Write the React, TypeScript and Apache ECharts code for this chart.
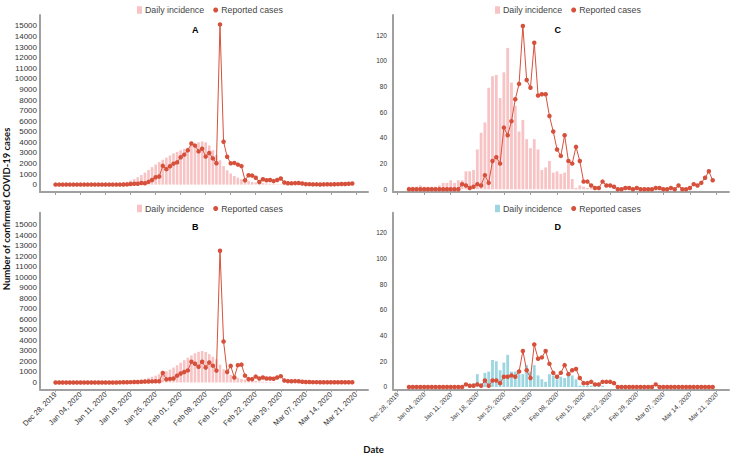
import React, { useEffect, useRef } from 'react';
import * as echarts from 'echarts';

// Day index 0 = Dec 28, 2019
const leftStartDay = 0;
const rightStartDay = 3;

const reportedA = [
  0, 0, 0, 0, 0, 0, 0, 0, 0, 0, 0, 0, 0, 0, 0, 0, 0, 0, 0,
  4, 17, 60, 77, 77, 150, 130, 260, 440, 690, 770, 1770, 1460, 1740, 1980, 2100,
  2590, 2830, 3240, 3880, 3690, 3140, 3390, 2650, 2990, 2480, 2020, 15150, 4050,
  2640, 2010, 2050, 1890, 1750, 400, 890, 850, 650, 250, 510, 410, 430, 330, 430,
  570, 200, 125, 120, 140, 145, 100, 45, 40, 20, 25, 15, 20, 30, 20, 30, 40, 50,
  60, 80, 100,
];
const incidenceA = [
  0, 0, 0, 0, 0, 0, 0, 0, 0, 0, 0, 0, 0, 0, 0,
  10, 30, 60, 110, 180, 270, 380, 520, 700, 900, 1130, 1380, 1650, 1900, 2130,
  2350, 2550, 2750, 2950, 3100, 3250, 3380, 3500, 3650, 3850, 4000, 4080, 4000,
  3700, 3250, 2800, 2300, 1750, 1350, 1050, 820, 650, 510, 400, 320, 250, 200,
  160, 130, 100, 80, 60, 45, 35, 25, 20, 15, 10, 5,
  0, 0, 0, 0, 0, 0, 0, 0, 0, 0, 0, 0, 0, 0, 0,
];
const reportedB = [
  0, 0, 0, 0, 0, 0, 0, 0, 0, 0, 0, 0, 0, 0, 0, 0, 0, 0,
  10, 15, 20, 30, 40, 50, 60, 80, 90, 100, 110, 120, 900, 300, 340, 380, 650,
  850, 1000, 1150, 1980, 1780, 1500, 1980, 1420, 1900, 1600, 1130, 12550, 3900,
  1000, 1580, 480, 1650, 1700, 650, 320, 320, 560, 380, 480, 380, 380, 350, 470,
  600, 190, 130, 120, 130, 110, 70, 50, 40, 30, 30, 25, 25, 25, 25, 25, 25, 25,
  25, 25, 25,
];
const incidenceB = [
  0, 0, 0, 0, 0, 0, 0, 0, 0, 0, 0, 0, 0, 0, 0, 0, 0,
  20, 40, 60, 90, 130, 170, 220, 280, 350, 440, 540, 650, 780, 920, 1070, 1230,
  1420, 1640, 1880, 2120, 2350, 2580, 2780, 2920, 3000, 2900, 2700, 2450, 2200,
  1700, 1250, 950, 720, 560, 440, 350, 280, 220, 180, 140, 110, 80, 60, 45, 30,
  20, 10, 5,
  0, 0, 0, 0, 0, 0, 0, 0, 0, 0, 0, 0, 0, 0, 0, 0, 0, 0, 0,
];
const reportedC = [
  0, 0, 0, 0, 0, 0, 0, 0, 0, 0, 0, 0, 0, 0,
  4, 3, 1, 2, 4, 3, 11, 5, 22, 25, 20, 48, 42, 53, 70, 82, 127, 85, 79, 114, 73,
  74, 74, 57, 45, 31, 26, 42, 22, 20, 33, 22, 6, 6, 3, 1, 1, 6, 3, 3, 2, 0, 0, 1,
  1, 0, 1, 0, 0, 0, 0, 1, 1, 0, 0, 1, 0, 3, 0, 0, 1, 4, 3, 5, 9, 14, 7,
];
const incidenceC = [
  2, 2, 2, 3, 2, 2, 2, 2, 3, 5, 5, 7, 5, 7, 7, 14, 14, 15, 31, 44, 52, 79, 88, 89,
  71, 91, 110, 83, 65, 45, 54, 39, 32, 39, 31, 15, 17, 22, 13, 14, 12, 13, 20, 8,
  1, 3, 2, 1, 1,
  0, 0, 0, 0, 0, 0, 0, 0, 0, 0, 0, 0, 0, 0, 0, 0, 0, 0, 0, 0, 0, 0, 0, 0, 0, 0,
  0, 0, 0, 0, 0, 0,
];
const reportedD = [
  0, 0, 0, 0, 0, 0, 0, 0, 0, 0, 0, 0, 0, 0, 0,
  2, 1, 1, 2, 1, 5, 1, 5, 5, 3, 8, 8, 9, 8, 12, 28, 13, 7, 33, 22, 23, 28, 18, 11,
  8, 11, 17, 10, 13, 14, 7, 3, 3, 4, 2, 2, 4, 4, 4, 3,
  0, 0, 0, 0, 0, 0, 0, 0, 0, 0, 2,
  0, 0, 0, 0, 0, 0, 0, 0, 0, 0, 0, 0, 0, 0, 0,
];
const incidenceD = [
  0, 0, 0, 0, 0, 0, 0, 0, 0, 0, 0, 0, 0, 0, 0, 0,
  1, 3, 10, 3, 11, 12, 21, 20, 13, 19, 25, 12, 12, 10, 10, 17, 12, 17, 9, 6, 4,
  10, 9, 6, 8, 7, 10, 9, 6, 1, 1, 1, 1, 1, 1, 1,
  0, 0, 0, 0, 0, 0, 0, 0, 0, 0, 0, 0, 0, 0, 0, 0, 0, 0, 0, 0, 0, 0, 0, 0, 0, 0,
  0, 0, 0,
];

const leftYTicks = [0, 1000, 2000, 3000, 4000, 5000, 6000, 7000, 8000, 9000, 10000, 11000, 12000, 13000, 14000, 15000];
const rightYTicks = [0, 20, 40, 60, 80, 100, 120];
const dateTicks = [0, 7, 14, 21, 28, 35, 42, 49, 56, 63, 70, 77, 84];
const monthNames = ['Jan', 'Feb', 'Mar', 'Apr', 'May', 'Jun', 'Jul', 'Aug', 'Sep', 'Oct', 'Nov', 'Dec'];
const panelLetters = ['A', 'B', 'C', 'D'];
const legendIncidence = 'Daily incidence';
const legendReported = 'Reported cases';
const yTitle = 'Number of confirmed COVID-19 cases';
const xTitle = 'Date';

const RED = '#d6513c';
const PINK = '#f7c3c4';
const BLUE = '#9dd5e0';
const AXIS = '#a0a0a0';
const FONT = 'Liberation Sans';

function fmtDate(v: number) {
  const d = new Date(Date.UTC(2019, 11, 28) + Math.round(v) * 86400000);
  const dd = String(d.getUTCDate()).padStart(2, '0');
  return `${monthNames[d.getUTCMonth()]} ${dd}, ${d.getUTCFullYear()}`;
}

function pairs(arr: number[], start: number) {
  return arr.map((v, i) => [start + i, v]);
}

export default function App() {
  const ref = useRef<HTMLDivElement>(null);
  useEffect(() => {
    const chart = echarts.init(ref.current!, null, { renderer: 'svg' });

    const grids = [
      { left: 40, top: 15, width: 328, height: 177 },
      { left: 40, top: 212.7, width: 328, height: 176.6 },
      { left: 393, top: 15, width: 336, height: 177 },
      { left: 393, top: 212.7, width: 336, height: 176.6 },
    ];
    const xRanges = [
      [-4.35, 87.4],
      [-4.35, 87.4],
      [-1.21, 87.3],
      [-1.21, 87.3],
    ];
    const yRanges = [
      [-700, 16040],
      [-650, 16170],
      [-2.1, 135.6],
      [-1.8, 135.6],
    ];
    const isLeft = [true, true, false, false];
    const isBottom = [false, true, false, true];

    const xAxis = grids.map((_, i) => ({
      type: 'value',
      gridIndex: i,
      min: xRanges[i][0],
      max: xRanges[i][1],
      splitLine: { show: false },
      axisLine: { show: true, onZero: false, lineStyle: { color: AXIS, width: 2 } },
      axisTick: { show: true, length: 3, customValues: dateTicks, lineStyle: { color: AXIS, width: 1 } },
      axisLabel: {
        show: isBottom[i],
        customValues: dateTicks,
        rotate: 45,
        margin: 4,
        fontSize: isLeft[i] ? 7.5 : 6.5,
        color: '#333',
        fontFamily: FONT,
        formatter: (v: number) => fmtDate(v),
      },
    }));

    const yAxis = grids.map((_, i) => ({
      type: 'value',
      gridIndex: i,
      min: yRanges[i][0],
      max: yRanges[i][1],
      splitLine: { show: false },
      axisLine: { show: true, onZero: false, lineStyle: { color: AXIS, width: 2 } },
      axisTick: { show: false },
      axisLabel: {
        customValues: isLeft[i] ? leftYTicks : rightYTicks,
        margin: isLeft[i] ? 3 : 6,
        fontSize: isLeft[i] ? 8 : 6.5,
        color: '#333',
        fontFamily: FONT,
        formatter: (v: number) => String(Math.round(v)),
      },
    }));

    const incid = [incidenceA, incidenceB, incidenceC, incidenceD];
    const rep = [reportedA, reportedB, reportedC, reportedD];
    const starts = [leftStartDay, leftStartDay, rightStartDay, rightStartDay];
    const barColors = [PINK, PINK, PINK, BLUE];

    const series: any[] = [];
    grids.forEach((_, i) => {
      const L = panelLetters[i];
      series.push({
        type: 'bar',
        name: `${legendIncidence}|${L}`,
        xAxisIndex: i,
        yAxisIndex: i,
        data: pairs(incid[i], starts[i]),
        barWidth: isLeft[i] ? 2.6 : 2.8,
        itemStyle: { color: barColors[i] },
        silent: true,
        z: 1,
      });
      series.push({
        type: 'line',
        name: `${legendReported}|${L}`,
        xAxisIndex: i,
        yAxisIndex: i,
        data: pairs(rep[i], starts[i]),
        symbol: 'circle',
        symbolSize: 4.5,
        showAllSymbol: true,
        lineStyle: { color: RED, width: 1 },
        itemStyle: { color: RED },
        silent: true,
        z: 3,
      });
    });

    const legendLeft = [132, 132, 490, 490];
    const legendTop = [0.5, 199, 0.5, 199];
    const legend = grids.map((_, i) => ({
      left: legendLeft[i],
      top: legendTop[i],
      orient: 'horizontal',
      itemWidth: 5,
      itemHeight: 7.5,
      itemGap: 9,
      selectedMode: false,
      textStyle: { fontSize: 8.8, color: '#444', fontFamily: FONT, padding: [0, 0, 0, -2] },
      formatter: (n: string) => n.split('|')[0],
      data: [
        { name: `${legendIncidence}|${panelLetters[i]}`, icon: 'rect' },
        { name: `${legendReported}|${panelLetters[i]}`, icon: 'circle' },
      ],
    }));

    const letterPos = [
      [195.3, 29.5],
      [195.3, 226.7],
      [557.7, 29.5],
      [557.7, 226.7],
    ];
    const graphic: any[] = letterPos.map((p, i) => ({
      type: 'text',
      x: p[0],
      y: p[1],
      style: {
        text: panelLetters[i],
        fontSize: 9,
        fontWeight: 'bold',
        fontFamily: FONT,
        fill: '#000',
        align: 'center',
        verticalAlign: 'middle',
      },
    }));
    graphic.push({
      type: 'text',
      x: 6.5,
      y: 209,
      rotation: Math.PI / 2,
      style: {
        text: yTitle,
        fontSize: 9.5,
        fontWeight: 'bold',
        fontFamily: 'Lato',
        fill: '#111',
        align: 'center',
        verticalAlign: 'middle',
      },
    });
    graphic.push({
      type: 'text',
      x: 373.5,
      y: 449.5,
      style: {
        text: xTitle,
        fontSize: 9.5,
        fontWeight: 'bold',
        fontFamily: 'Lato',
        fill: '#111',
        align: 'center',
        verticalAlign: 'middle',
      },
    });

    chart.setOption({
      animation: false,
      backgroundColor: '#fff',
      grid: grids.map((g) => ({ ...g, containLabel: false })),
      xAxis,
      yAxis,
      legend,
      series,
      graphic,
    });
    return () => chart.dispose();
  }, []);
  return <div ref={ref} style={{ position: 'fixed', left: 0, top: 0, width: 731, height: 454 }} />;
}
